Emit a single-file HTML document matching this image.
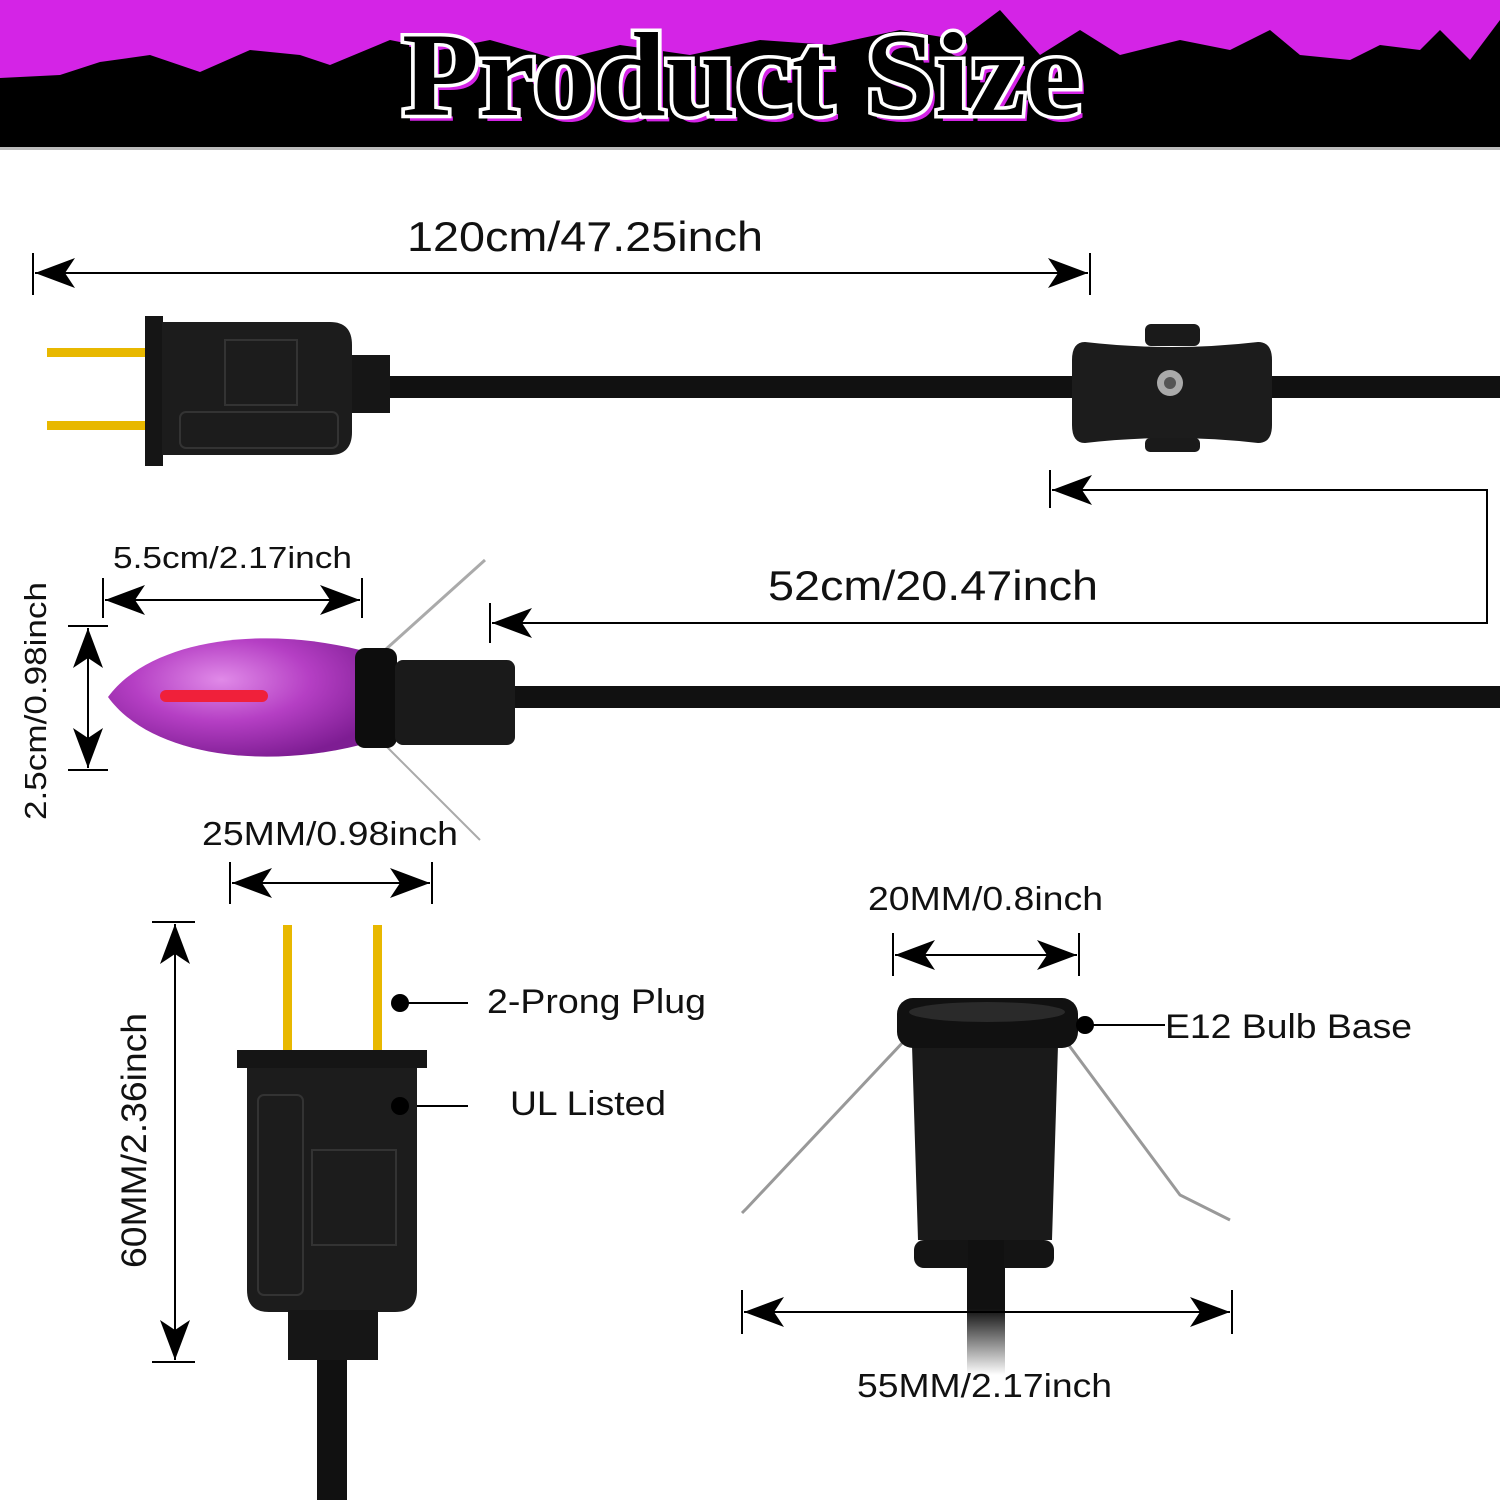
<!DOCTYPE html>
<html><head><meta charset="utf-8"><style>
html,body{margin:0;padding:0;background:#fff;width:1500px;height:1500px;overflow:hidden}
svg{display:block}
text{font-family:"Liberation Sans",sans-serif;fill:#111}
</style></head><body>
<svg width="1500" height="1500" viewBox="0 0 1500 1500" xmlns="http://www.w3.org/2000/svg">
<defs>
<marker id="a" viewBox="0 0 40 30" refX="40" refY="15" markerWidth="40" markerHeight="30" markerUnits="userSpaceOnUse" orient="auto-start-reverse"><path d="M40,15 L0,0 L10,15 L0,30 Z" fill="#000"/></marker>
<radialGradient id="bg" cx="0.45" cy="0.35" r="0.7"><stop offset="0" stop-color="#e08ae8"/><stop offset="0.5" stop-color="#b53fc4"/><stop offset="1" stop-color="#7e1d93"/></radialGradient>
<linearGradient id="cf" x1="0" y1="1210" x2="0" y2="1375" gradientUnits="userSpaceOnUse"><stop offset="0.6" stop-color="#111"/><stop offset="1" stop-color="#111" stop-opacity="0"/></linearGradient>
</defs>
<rect x="0" y="0" width="1500" height="148" fill="#000"/>
<path d="M0,0 H1500 V20 L1470,60 L1440,30 L1420,50 L1380,45 L1350,60 L1300,55 L1270,30 L1230,50 L1180,40 L1120,55 L1080,30 L1040,55 L1000,10 L960,40 L900,30 L830,45 L760,40 L690,55 L620,45 L560,60 L490,40 L440,50 L390,40 L330,65 L300,55 L250,50 L200,72 L150,55 L100,62 L60,75 L0,78 Z" fill="#d424e6"/>
<text x="742" y="115" text-anchor="middle" textLength="680" lengthAdjust="spacingAndGlyphs" style="font-family:'Liberation Serif',serif;font-size:120px;font-weight:bold;fill:#d424e6" dx="5" dy="6">Product Size</text>
<text x="742" y="115" text-anchor="middle" textLength="680" lengthAdjust="spacingAndGlyphs" style="font-family:'Liberation Serif',serif;font-size:120px;font-weight:bold;fill:#000;stroke:#fff;stroke-width:7;paint-order:stroke">Product Size</text>
<rect x="0" y="147" width="1500" height="3" fill="#bbb"/>

<rect x="967" y="1210" width="38" height="170" fill="url(#cf)"/>

<g stroke="#000" stroke-width="2" fill="none">
<line x1="35" y1="273" x2="1088" y2="273" marker-start="url(#a)" marker-end="url(#a)"/>
<line x1="33" y1="253" x2="33" y2="295"/><line x1="1090" y1="253" x2="1090" y2="295"/>
<polyline points="1052,490 1487,490 1487,623 492,623" marker-start="url(#a)" marker-end="url(#a)"/>
<line x1="1050" y1="470" x2="1050" y2="508"/><line x1="490" y1="603" x2="490" y2="643"/>
<line x1="105" y1="600" x2="360" y2="600" marker-start="url(#a)" marker-end="url(#a)"/>
<line x1="103" y1="578" x2="103" y2="618"/><line x1="362" y1="578" x2="362" y2="618"/>
<line x1="88" y1="628" x2="88" y2="768" marker-start="url(#a)" marker-end="url(#a)"/>
<line x1="68" y1="626" x2="108" y2="626"/><line x1="68" y1="770" x2="108" y2="770"/>
<line x1="232" y1="883" x2="430" y2="883" marker-start="url(#a)" marker-end="url(#a)"/>
<line x1="230" y1="862" x2="230" y2="904"/><line x1="432" y1="862" x2="432" y2="904"/>
<line x1="175" y1="924" x2="175" y2="1360" marker-start="url(#a)" marker-end="url(#a)"/>
<line x1="152" y1="922" x2="195" y2="922"/><line x1="152" y1="1362" x2="195" y2="1362"/>
<line x1="895" y1="955" x2="1077" y2="955" marker-start="url(#a)" marker-end="url(#a)"/>
<line x1="893" y1="933" x2="893" y2="976"/><line x1="1079" y1="933" x2="1079" y2="976"/>
<line x1="744" y1="1312" x2="1230" y2="1312" marker-start="url(#a)" marker-end="url(#a)"/>
<line x1="742" y1="1290" x2="742" y2="1334"/><line x1="1232" y1="1290" x2="1232" y2="1334"/>
<line x1="400" y1="1003" x2="468" y2="1003"/><line x1="400" y1="1106" x2="468" y2="1106"/>
<line x1="1085" y1="1025" x2="1165" y2="1025"/>
</g>

<text x="407" y="251" font-size="42" textLength="356" lengthAdjust="spacingAndGlyphs">120cm/47.25inch</text>
<text x="768" y="600" font-size="42" textLength="330" lengthAdjust="spacingAndGlyphs">52cm/20.47inch</text>
<text x="113" y="568" font-size="31" textLength="239" lengthAdjust="spacingAndGlyphs">5.5cm/2.17inch</text>
<text transform="translate(46,820) rotate(-90)" font-size="31" textLength="238" lengthAdjust="spacingAndGlyphs">2.5cm/0.98inch</text>
<text x="202" y="845" font-size="33" textLength="256" lengthAdjust="spacingAndGlyphs">25MM/0.98inch</text>
<text transform="translate(146,1268) rotate(-90)" font-size="35" textLength="255" lengthAdjust="spacingAndGlyphs">60MM/2.36inch</text>
<text x="487" y="1013" font-size="34" textLength="219" lengthAdjust="spacingAndGlyphs">2-Prong Plug</text>
<text x="510" y="1115" font-size="34" textLength="156" lengthAdjust="spacingAndGlyphs">UL Listed</text>
<text x="868" y="910" font-size="33" textLength="235" lengthAdjust="spacingAndGlyphs">20MM/0.8inch</text>
<text x="1165" y="1038" font-size="34" textLength="247" lengthAdjust="spacingAndGlyphs">E12 Bulb Base</text>
<text x="857" y="1397" font-size="33" textLength="255" lengthAdjust="spacingAndGlyphs">55MM/2.17inch</text>

<rect x="47" y="348" width="100" height="9" fill="#e8b800"/>
<rect x="47" y="421" width="100" height="9" fill="#e8b800"/>
<rect x="380" y="376" width="1120" height="22" fill="#111"/>
<rect x="145" y="316" width="18" height="150" fill="#151515"/>
<path d="M162,322 H330 Q352,322 352,345 V432 Q352,455 330,455 H162 Z" fill="#1c1c1c"/>
<rect x="352" y="355" width="38" height="58" fill="#161616"/>
<rect x="225" y="340" width="72" height="65" fill="none" stroke="#333" stroke-width="2"/>
<rect x="180" y="412" width="158" height="36" rx="6" fill="none" stroke="#333" stroke-width="2"/>
<rect x="1145" y="324" width="55" height="22" rx="6" fill="#1a1a1a"/>
<rect x="1145" y="438" width="55" height="14" rx="5" fill="#1a1a1a"/>
<path d="M1085,342 Q1172,352 1258,342 Q1272,342 1272,360 V425 Q1272,443 1258,443 Q1172,433 1085,443 Q1072,443 1072,425 V360 Q1072,342 1085,342 Z" fill="#1c1c1c"/>
<circle cx="1170" cy="383" r="13" fill="#aaa"/><circle cx="1170" cy="383" r="6" fill="#555"/>

<rect x="505" y="686" width="995" height="22" fill="#111"/>
<line x1="385" y1="650" x2="485" y2="560" stroke="#aaa" stroke-width="3"/>
<line x1="385" y1="745" x2="480" y2="840" stroke="#aaa" stroke-width="2"/>
<path d="M108,697 C150,640 260,625 360,650 V745 C260,770 150,755 108,697 Z" fill="url(#bg)"/>
<rect x="160" y="690" width="108" height="12" rx="6" fill="#f0203a"/>
<rect x="355" y="648" width="42" height="100" rx="10" fill="#0d0d0d"/>
<rect x="395" y="660" width="120" height="85" rx="8" fill="#1a1a1a"/>

<rect x="283" y="925" width="9" height="128" fill="#e8b800"/>
<rect x="373" y="925" width="9" height="128" fill="#e8b800"/>
<rect x="317" y="1355" width="30" height="145" fill="#111"/>
<rect x="237" y="1050" width="190" height="18" fill="#151515"/>
<path d="M247,1068 H417 V1290 Q417,1312 395,1312 H269 Q247,1312 247,1290 Z" fill="#1c1c1c"/>
<rect x="288" y="1310" width="90" height="50" fill="#161616"/>
<rect x="312" y="1150" width="84" height="95" fill="none" stroke="#333" stroke-width="2"/>
<rect x="258" y="1095" width="45" height="200" rx="6" fill="none" stroke="#333" stroke-width="2"/>

<polyline points="905,1040 747,1208 742,1213" stroke="#999" stroke-width="3" fill="none"/>
<polyline points="1065,1040 1180,1195 1230,1220" stroke="#999" stroke-width="3" fill="none"/>
<path d="M912,1045 H1058 L1052,1240 H918 Z" fill="#1a1a1a"/>
<rect x="914" y="1240" width="140" height="28" rx="10" fill="#141414"/>
<rect x="968" y="1240" width="36" height="30" fill="#111"/>
<rect x="897" y="998" width="181" height="50" rx="16" fill="#111"/>
<ellipse cx="987" cy="1012" rx="78" ry="10" fill="#2a2a2a"/>

<circle cx="400" cy="1003" r="9"/><circle cx="400" cy="1106" r="9"/><circle cx="1085" cy="1025" r="9"/>
</svg>
</body></html>
